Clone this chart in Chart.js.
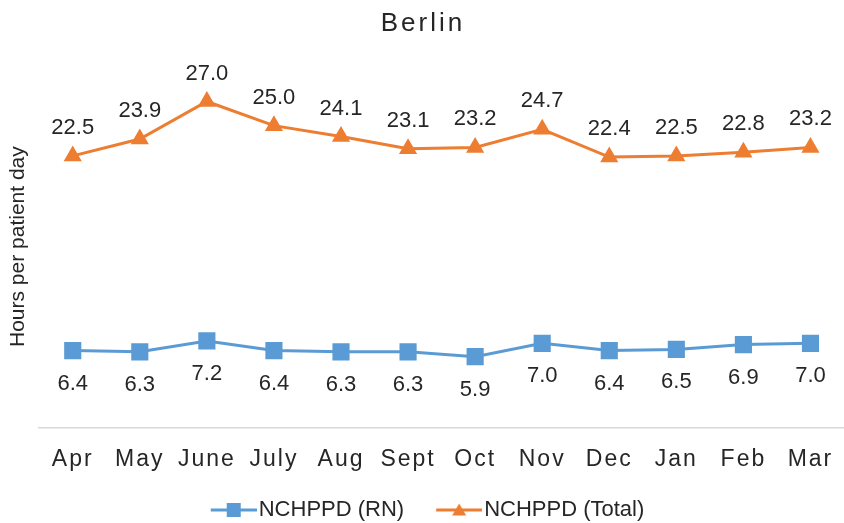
<!DOCTYPE html>
<html>
<head>
<meta charset="utf-8">
<script src="https://cdn.jsdelivr.net/npm/chart.js@4/dist/chart.umd.min.js"></script>
<style>
  html, body { margin: 0; padding: 0; background: #fff; }
  #wrap { width: 844px; height: 523px; }
</style>
</head>
<body>
<div id="wrap"><canvas id="nchppdChart"></canvas></div>
<script>
// Data
const months = ['Apr', 'May', 'June', 'July', 'Aug', 'Sept', 'Oct', 'Nov', 'Dec', 'Jan', 'Feb', 'Mar'];
const rnHours = [6.4, 6.3, 7.2, 6.4, 6.3, 6.3, 5.9, 7.0, 6.4, 6.5, 6.9, 7.0];
const totalHours = [22.5, 23.9, 27.0, 25.0, 24.1, 23.1, 23.2, 24.7, 22.4, 22.5, 22.8, 23.2];

const blue = '#5B9BD5';
const orange = '#ED7D31';
const textColor = '#262626';

// Legend icons: line with marker in the middle (blank strip on the left spaces the items)
function makeIcon(color, shape) {
    const c = document.createElement('canvas');
    const gap = 18;
    c.width = 46 + gap; c.height = 16;
    const g = c.getContext('2d');
    g.strokeStyle = color;
    g.lineWidth = 3;
    g.beginPath(); g.moveTo(gap, 8); g.lineTo(gap + 46, 8); g.stroke();
    g.fillStyle = color;
    const cx = gap + 23;
    if (shape === 'rect') {
        g.fillRect(cx - 7, 1, 14, 14);
    } else {
        g.beginPath(); g.moveTo(cx, 1.5); g.lineTo(cx + 7, 13.5); g.lineTo(cx - 7, 13.5); g.closePath(); g.fill();
    }
    return c;
}
const legendIcons = [makeIcon(blue, 'rect'), makeIcon(orange, 'triangle')];

// Letter spaced text for the month labels and title
const spacingPlugin = {
    id: 'spacing',
    afterLayout(chart) {
        const wrap = (obj, fn, sp) => {
            if (!obj || obj['_sp_' + fn]) return;
            const orig = obj[fn];
            obj[fn] = function(...args) {
                const c = chart.ctx;
                const prev = c.letterSpacing;
                c.letterSpacing = sp;
                orig.apply(this, args);
                c.letterSpacing = prev || '0px';
            };
            obj['_sp_' + fn] = true;
        };
        wrap(chart.scales.x, 'drawLabels', '2px');
        wrap(chart.titleBlock, 'draw', '3px');
    }
};

// Value labels: above the Total line, below the RN line
const valueLabels = {
    id: 'valueLabels',
    afterDatasetsDraw(chart) {
        const ctx = chart.ctx;
        ctx.save();
        ctx.font = '22px "Liberation Sans", Arial, sans-serif';
        ctx.fillStyle = textColor;
        ctx.textAlign = 'center';
        ctx.textBaseline = 'middle';
        chart.data.datasets.forEach((ds, i) => {
            const meta = chart.getDatasetMeta(i);
            const off = i === 0 ? 33 : -28;
            meta.data.forEach((pt, j) => {
                ctx.fillText(ds.data[j].toFixed(1), pt.x, pt.y + off);
            });
        });
        ctx.restore();
    }
};

const ctx = document.getElementById('nchppdChart').getContext('2d');
const chart = new Chart(ctx, {
    type: 'line',
    data: {
        labels: months,
        datasets: [
            {
                label: 'NCHPPD (RN)',
                data: rnHours,
                borderColor: blue,
                backgroundColor: blue,
                borderWidth: 3,
                pointStyle: 'rect',
                pointRadius: 10,
                pointHoverRadius: 10,
                tension: 0
            },
            {
                label: 'NCHPPD (Total)',
                data: totalHours,
                borderColor: orange,
                backgroundColor: orange,
                borderWidth: 3,
                pointStyle: 'triangle',
                pointRadius: 7.5,
                pointHoverRadius: 7.5,
                tension: 0
            }
        ]
    },
    options: {
        responsive: true,
        maintainAspectRatio: false,
        animation: false,
        layout: { autoPadding: false, padding: { left: 2, right: 0, top: 0, bottom: 0 } },
        plugins: {
            title: {
                display: true,
                text: 'Berlin',
                color: textColor,
                font: { family: '"Liberation Sans", Arial, sans-serif', size: 26, weight: 'normal' },
                padding: { top: 8, bottom: 26 }
            },
            legend: {
                position: 'bottom',
                maxHeight: 47,
                labels: {
                    usePointStyle: true,
                    pointStyleWidth: 46,
                    color: textColor,
                    padding: 23,
                    font: { family: '"Liberation Sans", Arial, sans-serif', size: 22 },
                    generateLabels: (c) => Chart.defaults.plugins.legend.labels.generateLabels(c)
                        .map((l, i) => ({ ...l, pointStyle: legendIcons[i] }))
                }
            },
            tooltip: { enabled: false }
        },
        scales: {
            x: {
                offset: true,
                grid: { display: false, drawTicks: false },
                border: { display: true, color: '#D9D9D9', width: 1.5 },
                ticks: {
                    color: textColor,
                    padding: 18,
                    autoSkip: false,
                    maxRotation: 0,
                    font: { family: '"Liberation Sans", Arial, sans-serif', size: 23 }
                },
                afterFit: (s) => { s.paddingLeft = 0; s.paddingRight = 0; s.height = 48; }
            },
            y: {
                min: 0,
                max: 30,
                grid: { display: false, drawTicks: false },
                border: { display: false },
                ticks: { display: false },
                title: {
                    display: true,
                    text: 'Hours per patient day',
                    color: textColor,
                    padding: { top: 4, bottom: 8 },
                    font: { family: '"Liberation Sans", Arial, sans-serif', size: 21 }
                }
            }
        }
    },
    plugins: [spacingPlugin, valueLabels]
});
</script>
</body>
</html>
